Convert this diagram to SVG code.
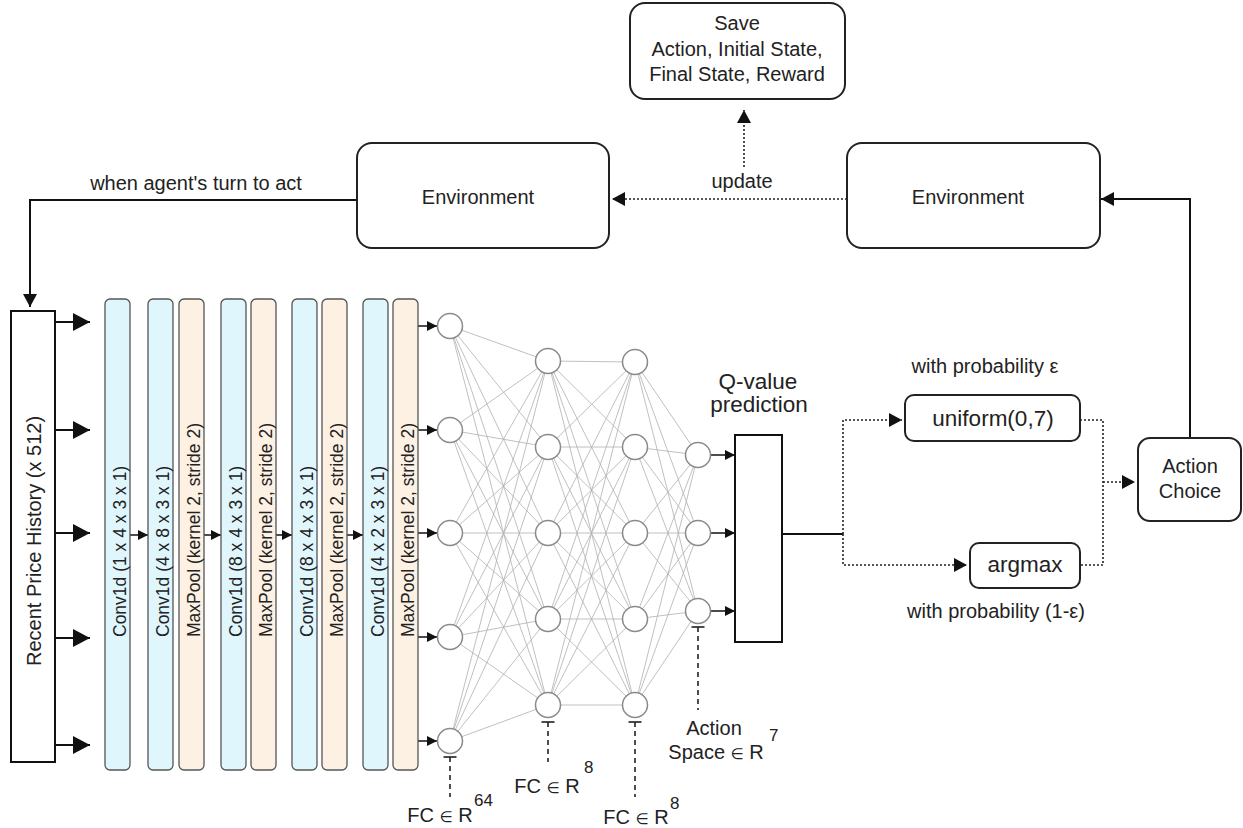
<svg xmlns="http://www.w3.org/2000/svg" width="1243" height="828" viewBox="0 0 1243 828">
<style>
text{font-family:"Liberation Sans",Arial,"DejaVu Sans",sans-serif;fill:#222}
.t20{font-size:20px}
.lbl{font-size:17.5px}
.sup{font-size:17px}
.el{font-size:15px}
.box{fill:#fff;stroke:#222;stroke-width:2}
.conv{fill:#e0f6fd;stroke:#555;stroke-width:1.3}
.pool{fill:#fdf1e4;stroke:#555;stroke-width:1.3}
.node{fill:#fff;stroke:#8a8a8a;stroke-width:1.5}
.wire{stroke:#b0b0b0;stroke-width:0.8;fill:none}
.solid{stroke:#111;stroke-width:2;fill:none}
.thin{stroke:#111;stroke-width:1.5;fill:none}
.dot{stroke:#222;stroke-width:1.6;stroke-dasharray:2 2;fill:none}
.dash{stroke:#222;stroke-width:1.6;stroke-dasharray:5 4;fill:none}
</style>
<defs>
<marker id="big" markerUnits="userSpaceOnUse" markerWidth="18" markerHeight="18" refX="17" refY="9" orient="auto"><path d="M0,0 L17,9 L0,18 z" fill="#111"/></marker>
<marker id="med" markerUnits="userSpaceOnUse" markerWidth="14" markerHeight="14" refX="13" refY="7" orient="auto"><path d="M0,0 L13,7 L0,14 z" fill="#111"/></marker>
<marker id="sm" markerUnits="userSpaceOnUse" markerWidth="11" markerHeight="10" refX="10" refY="5" orient="auto"><path d="M0,0 L10,5 L0,10 z" fill="#111"/></marker>
</defs>

<g id="connectors">
<path class="wire" d="M450 326L548 361M450 326L548 447M450 326L548 533M450 326L548 619M450 326L548 705M450 430L548 361M450 430L548 447M450 430L548 533M450 430L548 619M450 430L548 705M450 533L548 361M450 533L548 447M450 533L548 533M450 533L548 619M450 533L548 705M450 637L548 361M450 637L548 447M450 637L548 533M450 637L548 619M450 637L548 705M450 741L548 361M450 741L548 447M450 741L548 533M450 741L548 619M450 741L548 705"/>
<path class="wire" d="M548 361L635 362M548 361L635 447M548 361L635 533M548 361L635 619M548 361L635 705M548 447L635 362M548 447L635 447M548 447L635 533M548 447L635 619M548 447L635 705M548 533L635 362M548 533L635 447M548 533L635 533M548 533L635 619M548 533L635 705M548 619L635 362M548 619L635 447M548 619L635 533M548 619L635 619M548 619L635 705M548 705L635 362M548 705L635 447M548 705L635 533M548 705L635 619M548 705L635 705"/>
<path class="wire" d="M635 362L698 455M635 362L698 533M635 362L698 611M635 447L698 455M635 447L698 533M635 447L698 611M635 533L698 455M635 533L698 533M635 533L698 611M635 619L698 455M635 619L698 533M635 619L698 611M635 705L698 455M635 705L698 533M635 705L698 611"/>
<path class="solid" d="M357 200H30V307" marker-end="url(#med)"/>
<path class="solid" d="M1190 438V199H1101" marker-end="url(#med)"/>
<path class="dot" d="M847 199H612" marker-end="url(#med)"/>
<path class="dot" d="M744 167V110" marker-end="url(#med)"/>
<path class="solid" d="M55 322H90" marker-end="url(#big)"/>
<path class="solid" d="M55 430H90" marker-end="url(#big)"/>
<path class="solid" d="M55 533H90" marker-end="url(#big)"/>
<path class="solid" d="M55 638H90" marker-end="url(#big)"/>
<path class="solid" d="M55 745H90" marker-end="url(#big)"/>
<path class="thin" d="M130 535H148" marker-end="url(#sm)"/>
<path class="thin" d="M204 535H221" marker-end="url(#sm)"/>
<path class="thin" d="M276 535H292" marker-end="url(#sm)"/>
<path class="thin" d="M347 535H363" marker-end="url(#sm)"/>
<path class="thin" d="M418 326H437" marker-end="url(#sm)"/>
<path class="thin" d="M418 430H437" marker-end="url(#sm)"/>
<path class="thin" d="M418 533H437" marker-end="url(#sm)"/>
<path class="thin" d="M418 637H437" marker-end="url(#sm)"/>
<path class="thin" d="M418 741H437" marker-end="url(#sm)"/>
<path class="thin" d="M711 455H735" marker-end="url(#sm)"/>
<path class="thin" d="M711 533H735" marker-end="url(#sm)"/>
<path class="thin" d="M711 611H735" marker-end="url(#sm)"/>
<path class="solid" d="M782 534H843"/>
<path class="dot" d="M843 534V420H902" marker-end="url(#med)"/>
<path class="dot" d="M843 534V565H967" marker-end="url(#med)"/>
<path class="dot" d="M1080 420H1103V565H1080"/>
<path class="dot" d="M1103 482H1135" marker-end="url(#med)"/>
<path class="thin" d="M443.5 757H456.5M541.5 722H554.5M628.5 722H641.5M691.5 627H704.5"/>
<path class="dash" d="M450 757V797M548 722V762M635 722V797M698 627V710"/>
</g>

<g id="env-left"><rect class="box" x="357" y="143" width="252" height="105" rx="15"/><text class="t20" x="478" y="204" text-anchor="middle">Environment</text></g>
<g id="env-right"><rect class="box" x="847" y="143" width="253" height="105" rx="15"/><text class="t20" x="968" y="204" text-anchor="middle">Environment</text></g>
<g id="save"><rect class="box" x="630" y="3" width="215" height="96" rx="15"/>
<text class="t20" text-anchor="middle"><tspan x="737" y="30">Save</tspan><tspan x="737" y="55.5">Action, Initial State,</tspan><tspan x="737" y="81">Final State, Reward</tspan></text></g>
<g id="labels-top"><text class="t20" x="742" y="188" text-anchor="middle">update</text><text class="t20" x="196" y="190" text-anchor="middle">when agent's turn to act</text></g>

<g id="history"><rect x="11" y="311" width="44" height="451" fill="#fff" stroke="#111" stroke-width="2"/><text class="t20" transform="translate(40.5,541) rotate(-90)" text-anchor="middle">Recent Price History (x 512)</text></g>

<g id="layer1"><rect class="conv" x="105" y="299" width="25" height="471" rx="5"/><text class="lbl" transform="translate(125.5,637) rotate(-90)">Conv1d (1 x 4 x 3 x 1)</text></g>
<g id="layer2"><rect class="conv" x="148" y="299" width="25" height="471" rx="5"/><text class="lbl" transform="translate(168.5,637) rotate(-90)">Conv1d (4 x 8 x 3 x 1)</text></g>
<g id="layer3"><rect class="pool" x="179" y="299" width="25" height="471" rx="5"/><text class="lbl" transform="translate(199.5,637) rotate(-90)">MaxPool (kernel 2, stride 2)</text></g>
<g id="layer4"><rect class="conv" x="221" y="299" width="25" height="471" rx="5"/><text class="lbl" transform="translate(241.5,637) rotate(-90)">Conv1d (8 x 4 x 3 x 1)</text></g>
<g id="layer5"><rect class="pool" x="251" y="299" width="25" height="471" rx="5"/><text class="lbl" transform="translate(271.5,637) rotate(-90)">MaxPool (kernel 2, stride 2)</text></g>
<g id="layer6"><rect class="conv" x="292" y="299" width="25" height="471" rx="5"/><text class="lbl" transform="translate(312.5,637) rotate(-90)">Conv1d (8 x 4 x 3 x 1)</text></g>
<g id="layer7"><rect class="pool" x="322" y="299" width="25" height="471" rx="5"/><text class="lbl" transform="translate(342.5,637) rotate(-90)">MaxPool (kernel 2, stride 2)</text></g>
<g id="layer8"><rect class="conv" x="363" y="299" width="25" height="471" rx="5"/><text class="lbl" transform="translate(383.5,637) rotate(-90)">Conv1d (4 x 2 x 3 x 1)</text></g>
<g id="layer9"><rect class="pool" x="393" y="299" width="25" height="471" rx="5"/><text class="lbl" transform="translate(413.5,637) rotate(-90)">MaxPool (kernel 2, stride 2)</text></g>

<g id="fc64"><circle class="node" cx="450" cy="326" r="12.5"/><circle class="node" cx="450" cy="430" r="12.5"/><circle class="node" cx="450" cy="533" r="12.5"/><circle class="node" cx="450" cy="637" r="12.5"/><circle class="node" cx="450" cy="741" r="12.5"/>
<text class="t20" x="440" y="822" text-anchor="middle">FC <tspan class="el">∈</tspan> R</text><text class="sup" x="474" y="806">64</text></g>
<g id="fc8a"><circle class="node" cx="548" cy="361" r="12.5"/><circle class="node" cx="548" cy="447" r="12.5"/><circle class="node" cx="548" cy="533" r="12.5"/><circle class="node" cx="548" cy="619" r="12.5"/><circle class="node" cx="548" cy="705" r="12.5"/>
<text class="t20" x="547" y="793" text-anchor="middle">FC <tspan class="el">∈</tspan> R</text><text class="sup" x="584" y="773">8</text></g>
<g id="fc8b"><circle class="node" cx="635" cy="362" r="12.5"/><circle class="node" cx="635" cy="447" r="12.5"/><circle class="node" cx="635" cy="533" r="12.5"/><circle class="node" cx="635" cy="619" r="12.5"/><circle class="node" cx="635" cy="705" r="12.5"/>
<text class="t20" x="636" y="824" text-anchor="middle">FC <tspan class="el">∈</tspan> R</text><text class="sup" x="670" y="809">8</text></g>
<g id="action-space"><circle class="node" cx="698" cy="455" r="12.5"/><circle class="node" cx="698" cy="533" r="12.5"/><circle class="node" cx="698" cy="611" r="12.5"/>
<text class="t20" x="714" y="735" text-anchor="middle">Action</text><text class="t20" x="716" y="759" text-anchor="middle">Space <tspan class="el">∈</tspan> R</text><text class="sup" x="769" y="741">7</text></g>

<g id="qvalue"><rect x="735" y="435" width="47" height="207" fill="#fff" stroke="#111" stroke-width="2"/>
<text font-size="22.5" text-anchor="middle"><tspan x="758" y="389">Q-value</tspan><tspan x="759" y="412">prediction</tspan></text></g>

<g id="uniform"><rect class="box" x="905" y="395" width="175" height="46" rx="9"/><text font-size="22.5" x="993" y="426" text-anchor="middle">uniform(0,7)</text></g>
<text class="t20" x="985" y="373" text-anchor="middle">with probability ε</text>
<g id="argmax"><rect class="box" x="970" y="543" width="110" height="45" rx="9"/><text font-size="22.5" x="1025" y="572" text-anchor="middle">argmax</text></g>
<text class="t20" x="996" y="618" text-anchor="middle">with probability (1-ε)</text>
<g id="action-choice"><rect class="box" x="1138" y="438" width="103" height="83" rx="12"/>
<text class="t20" text-anchor="middle"><tspan x="1190" y="473">Action</tspan><tspan x="1190" y="498">Choice</tspan></text></g>
</svg>
